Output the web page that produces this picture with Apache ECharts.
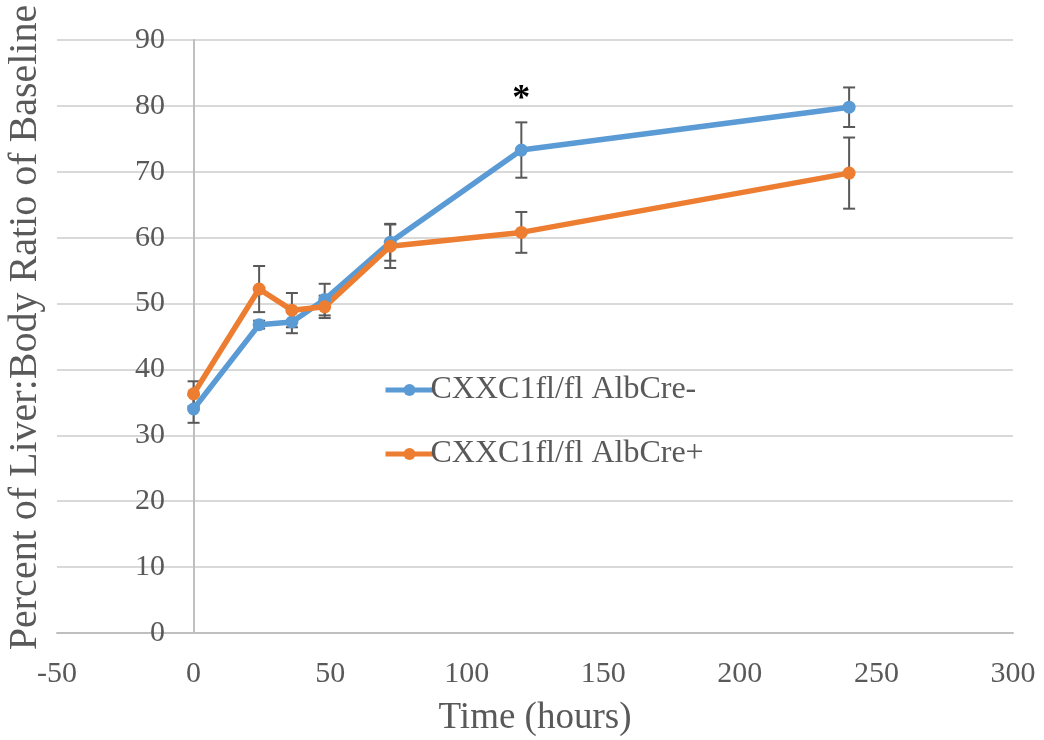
<!DOCTYPE html>
<html>
<head>
<meta charset="utf-8">
<script src="https://cdn.jsdelivr.net/npm/echarts@6/dist/echarts.min.js"></script>
<style>
  html, body { margin: 0; padding: 0; background: #fff; }
  #chart { width: 1044px; height: 740px; }
</style>
</head>
<body>
<div id="chart"></div>
<script>
// time points (hours)
const hours = [0, 24, 36, 48, 72, 120, 240];

// CXXC1fl/fl AlbCre-
const negMean = [34.0, 46.8, 47.2, 50.6, 59.3, 73.3, 79.8];
const negErr = [2.1, 0.6, 1.7, 2.4, 2.8, 4.2, 3.0];

// CXXC1fl/fl AlbCre+
const posMean = [36.3, 52.2, 49.0, 49.5, 58.7, 60.8, 69.8];
const posErr = [1.9, 3.5, 2.6, 1.7, 3.3, 3.1, 5.4];

const seriesNames = ['CXXC1fl/fl AlbCre-', 'CXXC1fl/fl AlbCre+'];

// significance marker
const starAt = [120, 81];

const FONT = 'Liberation Serif, serif';
const BLUE = '#5b9bd5';
const ORANGE = '#ed7d31';

const chart = echarts.init(document.getElementById('chart'));

function points(means) {
  return hours.map((h, i) => [h, means[i]]);
}
function errData(means, errs) {
  return hours.map((h, i) => [h, means[i] - errs[i], means[i] + errs[i]]);
}

// 误差线
function renderErr(params, api) {
  const x = api.value(0);
  const lo = api.coord([x, api.value(1)]);
  const hi = api.coord([x, api.value(2)]);
  const cap = 6;
  const style = { stroke: '#595959', lineWidth: 2 };
  return {
    type: 'group',
    children: [
      { type: 'line', shape: { x1: lo[0], y1: lo[1], x2: hi[0], y2: hi[1] }, style },
      { type: 'line', shape: { x1: lo[0] - cap, y1: lo[1], x2: lo[0] + cap, y2: lo[1] }, style },
      { type: 'line', shape: { x1: hi[0] - cap, y1: hi[1], x2: hi[0] + cap, y2: hi[1] }, style },
    ],
  };
}

const option = {
  animation: false,
  textStyle: { fontFamily: FONT },
  grid: { left: 57, right: 31, top: 40, bottom: 107, outerBoundsMode: 'none', containLabel: false },
  legend: {
    data: seriesNames,
    orient: 'vertical',
    left: 378,
    top: 369,
    itemWidth: 48,
    itemHeight: 15,
    itemGap: 32,
    lineStyle: { width: 5 },
    textStyle: { fontFamily: FONT, fontSize: 32, color: '#595959', lineHeight: 32, padding: [0, 0, 0, -8] },
  },
  xAxis: {
    type: 'value',
    min: -50,
    max: 300,
    interval: 50,
    name: 'Time (hours)',
    nameLocation: 'middle',
    nameGap: 67,
    nameTextStyle: { fontFamily: FONT, fontSize: 37, color: '#595959' },
    axisLine: { lineStyle: { color: '#bfbfbf', width: 2 } },
    axisTick: { show: false },
    axisLabel: { fontFamily: FONT, fontSize: 30, color: '#595959', margin: 26 },
    splitLine: { show: false },
  },
  yAxis: {
    type: 'value',
    min: 0,
    max: 90,
    interval: 10,
    name: 'Percent of Liver:Body Ratio of Baseline',
    nameLocation: 'middle',
    nameRotate: 90,
    nameGap: 12,
    nameTextStyle: { fontFamily: FONT, fontSize: 40, color: '#595959', padding: [0, 0, 0, 18] },
    axisLine: { show: true, onZero: true, lineStyle: { color: '#bfbfbf', width: 2 } },
    axisTick: { show: false },
    axisLabel: { fontFamily: FONT, fontSize: 30, color: '#595959', margin: -108 },
    splitLine: { lineStyle: { color: '#d9d9d9', width: 2 } },
  },
  series: [
    {
      type: 'custom',
      renderItem: renderErr,
      data: errData(negMean, negErr),
      encode: { x: 0, y: [1, 2] },
      z: 1,
      silent: true,
    },
    {
      type: 'custom',
      renderItem: renderErr,
      data: errData(posMean, posErr),
      encode: { x: 0, y: [1, 2] },
      z: 1,
      silent: true,
    },
    {
      name: seriesNames[0],
      type: 'line',
      data: points(negMean),
      symbol: 'circle',
      symbolSize: 13,
      lineStyle: { color: BLUE, width: 5.5 },
      itemStyle: { color: BLUE },
      z: 3,
      markPoint: {
        symbol: 'circle',
        symbolSize: 0,
        data: [{ coord: starAt }],
        label: {
          show: true,
          formatter: '*',
          position: 'inside',
          fontFamily: FONT,
          fontSize: 36,
          fontWeight: 'bold',
          color: '#000',
        },
      },
    },
    {
      name: seriesNames[1],
      type: 'line',
      data: points(posMean),
      symbol: 'circle',
      symbolSize: 13,
      lineStyle: { color: ORANGE, width: 5.5 },
      itemStyle: { color: ORANGE },
      z: 3,
    },
  ],
};

chart.setOption(option);
</script>
</body>
</html>
